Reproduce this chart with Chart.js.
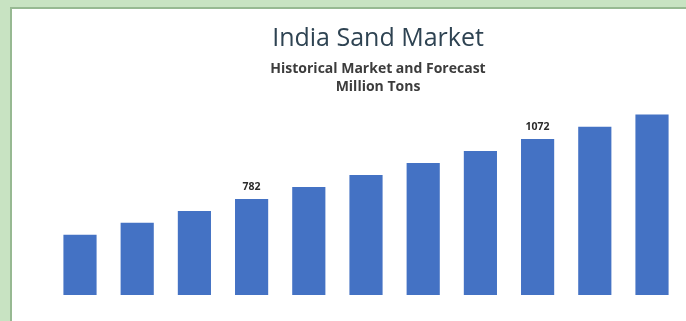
<!DOCTYPE html>
<html>
<head>
<meta charset="utf-8">
<script src="https://cdn.jsdelivr.net/npm/chart.js@4/dist/chart.umd.min.js"></script>
<style>
  html, body { margin: 0; padding: 0; }
  body { width: 686px; height: 321px; background: #c8e3c2; position: relative; overflow: hidden; }
  #frame { position: absolute; left: 10px; top: 7px; width: 740px; height: 312px; overflow: visible;
           border-left: 2px solid #97b992; border-top: 2px solid #97b992; background: #ffffff; }
  #wrap { position: absolute; left: 0; top: 0; width: 732px; height: 312px; }
</style>
</head>
<body>
<div id="frame"><div id="wrap"><canvas id="c" width="732" height="312"></canvas></div></div>
<script>
const categories = ["2019", "2020", "2021", "2022", "2023", "2024", "2025", "2026", "2027", "2028", "2029"];
const sandVolume = [609, 667, 724, 782, 840, 898, 956, 1014, 1072, 1131, 1190];
const labelledIndexes = [3, 8];
const titleText = "India Sand Market";
const subtitleLines = ["Historical Market and Forecast", "Million Tons"];

const valueLabels = {
  id: 'valueLabels',
  afterDatasetsDraw(chart) {
    const ctx = chart.ctx;
    const meta = chart.getDatasetMeta(0);
    ctx.save();
    ctx.font = 'bold 10.5px "Open Sans", sans-serif';
    ctx.fillStyle = '#2b2b2b';
    ctx.textAlign = 'center';
    ctx.textBaseline = 'middle';
    labelledIndexes.forEach(i => {
      const el = meta.data[i];
      ctx.fillText(String(sandVolume[i]), el.x, el.y - 12);
    });
    ctx.restore();
  }
};

const hiddenAxis = (w) => ({
  display: true,
  min: 318, max: 1200,
  grid: { display: false },
  border: { display: false },
  ticks: { display: false },
  afterFit(scale) { scale.width = w; }
});

new Chart(document.getElementById('c'), {
  type: 'bar',
  data: {
    labels: categories,
    datasets: [{
      data: sandVolume,
      yAxisID: 'y',
      backgroundColor: '#4472c4',
      borderWidth: 0,
      barPercentage: 0.58,
      categoryPercentage: 1.0
    }]
  },
  options: {
    responsive: false,
    animation: false,
    layout: { padding: { left: 0, right: 0, top: 0, bottom: 26 } },
    plugins: {
      legend: { display: false },
      tooltip: { enabled: false },
      title: {
        display: true,
        text: titleText,
        color: '#2e4352',
        font: { family: '"Open Sans", sans-serif', size: 25, weight: 'normal', lineHeight: 1.2 },
        padding: { top: 14.9, bottom: 4.4 }
      },
      subtitle: {
        display: true,
        text: subtitleLines,
        color: '#3c3c3c',
        font: { family: '"Open Sans", sans-serif', size: 14, weight: 'bold', lineHeight: 1.2857 },
        padding: { top: 1.7, bottom: 16.5 }
      }
    },
    scales: {
      x: { display: false },
      y: Object.assign(hiddenAxis(39.4), { position: 'left' }),
      yRight: Object.assign(hiddenAxis(63.4), { position: 'right' })
    }
  },
  plugins: [valueLabels]
});
</script>
</body>
</html>
